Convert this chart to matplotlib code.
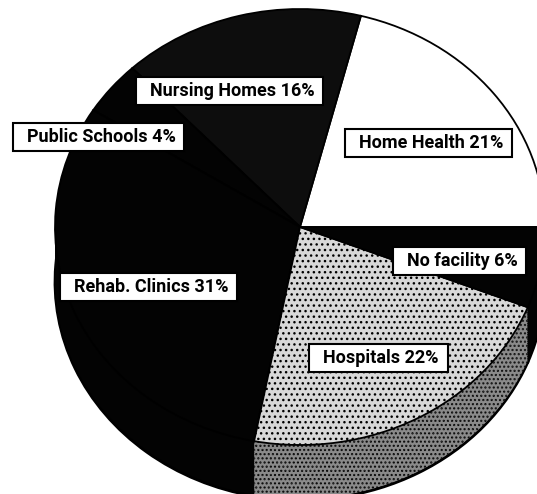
import matplotlib.pyplot as plt
from matplotlib.path import Path

labels = ['Home Health', 'Nursing Homes', 'Public Schools', 'Rehab. Clinics', 'Hospitals', 'No facility']
shares = [21, 16, 4, 31, 22, 6]

top_colors = ['white', '#0d0d0d', '#030303', '#030303', '#d8d8d8', '#030303']
side_colors = ['#cccccc', '#0a0a0a', '#030303', '#030303', '#8a8a8a', '#030303']
top_hatch = [None, None, None, None, '...', None]
side_hatch = [None, None, None, None, '....', None]

# label text anchor (center x, baseline y) in pixels
label_pos = [(431, 148), (232, 96), (101, 142), (151, 292), (381, 363), (462, 266)]

W, H = 537, 494
cx, cy = 300, 227      # pie centre in pixels
rx, ry = 245, 218      # ellipse radii of the top face
depth = 55 / ry        # thickness of the 3d pie
n_layers = 30

fig = plt.figure(figsize=(W / 100, H / 100), dpi=100)
ax = fig.add_axes([0, 0, 1, 1])

# side walls: stack of pies shifted downwards
for k in range(n_layers, 0, -1):
    off = depth * k / n_layers
    lw = 2.0 if k == n_layers else 0
    ax.pie(shares, colors=side_colors, hatch=side_hatch, startangle=0, counterclock=True,
           center=(0, -off), radius=1,
           wedgeprops=dict(edgecolor='black', linewidth=lw))

# top face
ax.pie(shares, colors=top_colors, hatch=top_hatch, startangle=0, counterclock=True,
       radius=1, wedgeprops=dict(edgecolor='black', linewidth=1.3))

ax.set_aspect('auto')
ax.set_xlim(-cx / rx, (W - cx) / rx)
ax.set_ylim(-(H - cy) / ry, cy / ry)
ax.axis('off')


def label_box(x0, y0, width, height, mutation_size):
    l, r, b, t = 14, 9, 5, 5
    verts = [(x0 - l, y0 - b), (x0 + width + r, y0 - b), (x0 + width + r, y0 + height + t),
             (x0 - l, y0 + height + t), (x0 - l, y0 - b)]
    return Path(verts, closed=True)


for (px, py), name, v in zip(label_pos, labels, shares):
    fig.text(px / W, 1 - py / H, f'{name} {v}%', ha='center', va='baseline',
             fontsize=13, fontweight='bold', family=['Roboto', 'DejaVu Sans'],
             bbox=dict(boxstyle=label_box, facecolor='white', edgecolor='black', linewidth=1.5))

fig.savefig('out.png', dpi=100)
